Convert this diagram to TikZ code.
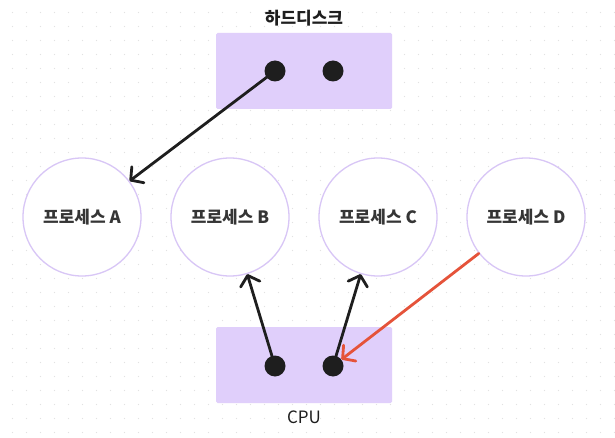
\documentclass[tikz,border=0pt]{standalone}
\usepackage{fontspec}
\setmainfont{Noto Sans CJK KR}
\usetikzlibrary{arrows.meta}
\definecolor{boxfill}{HTML}{E0CFFB}
\definecolor{ringcol}{HTML}{D8C6F6}
\definecolor{ink}{HTML}{1E1E1E}
\definecolor{orangered}{HTML}{E5533A}
\definecolor{griddot}{HTML}{E2E2E2}
\tikzset{
  storebox/.style={fill=boxfill, draw=none, rounded corners=1.5pt, minimum width=176pt, minimum height=76pt, inner sep=0pt},
  blob/.style={circle, fill=ink, minimum size=21pt, inner sep=0pt},
  proc/.style={circle, draw=ringcol, line width=1.3pt, fill=white, minimum size=118pt, inner sep=0pt, font=\fontsize{17pt}{20pt}\selectfont\bfseries, text=ink!90},
  caption/.style={font=\fontsize{17pt}{20pt}\selectfont, text=ink},
  flow/.style={draw=ink, line width=2.8pt, line cap=round, -{Straight Barb[length=9pt,width=20pt,line width=2.8pt,round]}},
  hotflow/.style={draw=orangered, line width=2.8pt, line cap=round, -{Straight Barb[length=9pt,width=20pt,line width=2.8pt,round]}}
}
\begin{document}
\begin{tikzpicture}[x=1pt,y=-1pt]
\useasboundingbox (0,0) rectangle (615,438);
\fill[white] (0,0) rectangle (615,438);
\foreach \i in {0,...,43}{\foreach \j in {0,...,31}{\fill[griddot] (12.5+14*\i,12.5+14*\j) circle (0.7);}}
\node[storebox] (disk) at (304,71) {};
\node[caption, font=\fontsize{17pt}{20pt}\selectfont\bfseries] (disklabel) at (304,18) {하드디스크};
\node[blob] (hd1) at (275,71) {};
\node[blob] (hd2) at (333,71) {};
\node[storebox] (cpu) at (304,365) {};
\node[caption] (cpulabel) at (304,417) {CPU};
\node[blob] (c1) at (275,366) {};
\node[blob] (c2) at (333,366) {};
\node[proc] (pa) at (82,217) {프로세스 A};
\node[proc] (pb) at (230,217) {프로세스 B};
\node[proc] (pc) at (378,217) {프로세스 C};
\node[proc] (pd) at (526,217) {프로세스 D};
\draw[flow] (hd1.center) -- (pa);
\draw[flow] (c1.center) -- (pb);
\draw[flow] (c2.center) -- (pc);
\draw[hotflow] (pd) -- (c2);
\end{tikzpicture}
\end{document}
